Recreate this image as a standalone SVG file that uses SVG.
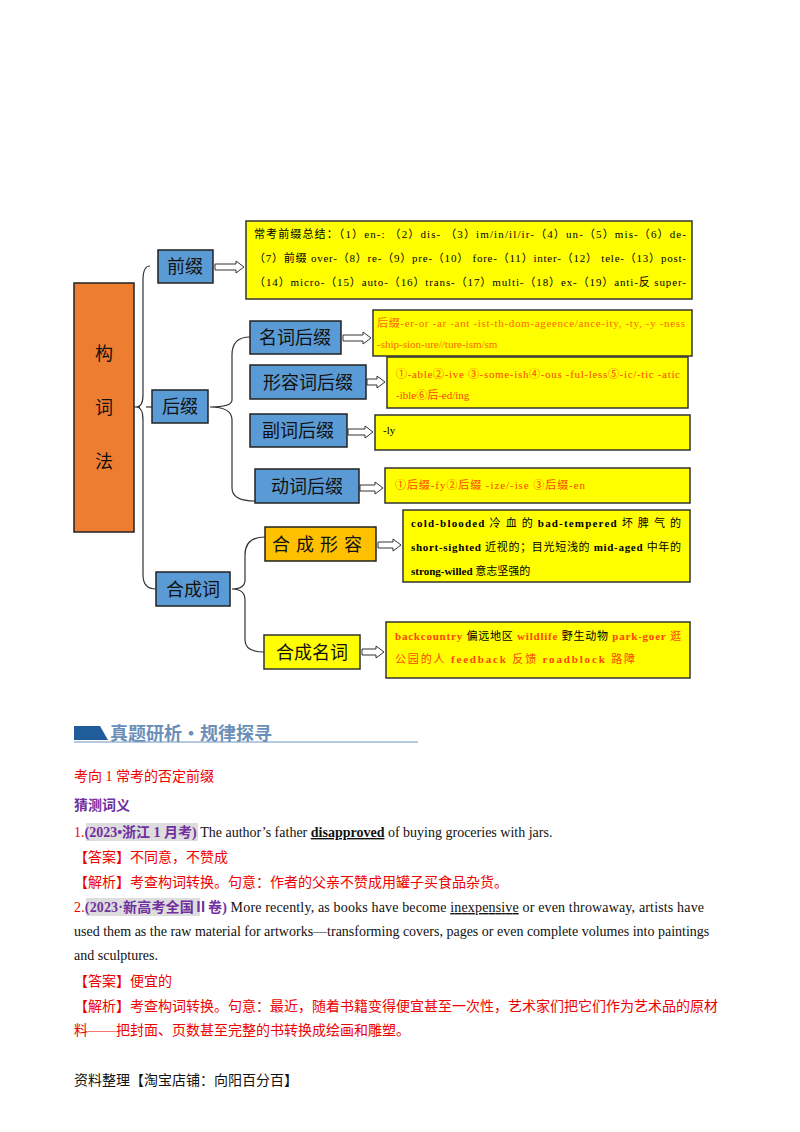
<svg xmlns="http://www.w3.org/2000/svg" width="800" height="1132" viewBox="0 0 800 1132">
<style>
.blue{fill:#5B9BD5;stroke:#222;stroke-width:1.5}
.yel{fill:#FFFF00;stroke:#333;stroke-width:1.5}
.lbl{font-family:"Noto Sans CJK SC",sans-serif;font-size:18px;fill:#111}
.sm{font-family:"Liberation Serif","Noto Sans CJK SC",serif;font-size:11px}
.br{fill:none;stroke:#333;stroke-width:1.2}
.ar{fill:#fff;stroke:#333;stroke-width:1}
.body{font-family:"Liberation Serif","Noto Sans CJK SC",serif;font-size:14px;fill:#111}
.red{fill:#E00}
</style>
<rect width="800" height="1132" fill="#fff"/>
<g id="connectors">
<path class="br" d="M134,407 H140 M150,266 Q143,266 143,280 V395 Q143,407 136,407 Q143,407 143,420 V575 Q143,589 156,589"/>
<path class="br" d="M152,407 H146"/>
<path class="br" d="M250,337 Q232,337 232,355 V400 Q232,407 210,407 Q232,407 232,420 V488 Q232,501 255,501"/>
<path class="br" d="M265,537 Q245,537 245,555 V580 Q245,589 232,589 Q245,589 245,600 V640 Q245,652 264,652"/>
<path class="ar" d="M215,264 H236 V261 L244,267 L236,273 V270 H215 Z"/>
<path class="ar" d="M343,335 H363 V332 L371,338 L363,344 V341 H343 Z"/>
<path class="ar" d="M367,379 H377 V376 L385,382 L377,388 V385 H367 Z"/>
<path class="ar" d="M348,429 H365 V426 L373,432 L365,438 V435 H348 Z"/>
<path class="ar" d="M360,485 H375 V482 L383,488 L375,494 V491 H360 Z"/>
<path class="ar" d="M378,542 H393 V539 L401,545 L393,551 V548 H378 Z"/>
<path class="ar" d="M362,649 H376 V646 L384,652 L376,658 V655 H362 Z"/>
</g>
<g id="root"><rect x="74" y="283" width="60" height="249" fill="#ED7D31" stroke="#222" stroke-width="1.5"/>
<text class="lbl" x="104" y="360" text-anchor="middle">构</text><text class="lbl" x="104" y="414" text-anchor="middle">词</text><text class="lbl" x="104" y="468" text-anchor="middle">法</text></g>
<g id="prefix"><rect class="blue" x="158" y="250" width="55" height="33"/><text class="lbl" x="185" y="273" text-anchor="middle">前缀</text></g>
<g id="prefix-box"><rect class="yel" x="246" y="221" width="446" height="78"/>
<text class="sm" x="254" y="238" textLength="432" lengthAdjust="spacing">常考前缀总结：（1）en-: （2）dis- （3）im/in/il/ir-（4）un-（5）mis-（6）de-</text>
<text class="sm" x="254" y="262" textLength="432" lengthAdjust="spacing">（7）前缀 over-（8）re-（9）pre-（10） fore-（11）inter-（12） tele-（13）post-</text>
<text class="sm" x="254" y="286" textLength="432" lengthAdjust="spacing">（14）micro-（15）auto-（16）trans-（17）multi-（18）ex-（19）anti-反 super-</text></g>
<g id="suffix"><rect class="blue" x="152" y="390" width="56" height="33"/><text class="lbl" x="180" y="413" text-anchor="middle">后缀</text></g>
<g id="noun-suffix"><rect class="blue" x="250" y="321" width="91" height="33"/><text class="lbl" x="295" y="344" text-anchor="middle">名词后缀</text>
<rect class="yel" x="373" y="310" width="319" height="46"/>
<text class="sm" fill="#F60" x="377" y="327" textLength="308" lengthAdjust="spacing">后缀-er-or -ar -ant -ist-th-dom-ageence/ance-ity, -ty, -y -ness</text>
<text class="sm" fill="#F60" x="377" y="348">-ship-sion-ure//ture-ism/sm</text></g>
<g id="adj-suffix"><rect class="blue" x="250" y="365" width="116" height="34"/><text class="lbl" x="308" y="389" text-anchor="middle">形容词后缀</text>
<rect class="yel" x="387" y="357" width="301" height="51"/>
<text class="sm" fill="#F40" x="396" y="378" textLength="284" lengthAdjust="spacing">①-able②-ive  ③-some-ish④-ous -ful-less⑤-ic/-tic -atic</text>
<text class="sm" fill="#F40" x="396" y="399">-ible⑥后-ed/ing</text></g>
<g id="adv-suffix"><rect class="blue" x="250" y="414" width="97" height="33"/><text class="lbl" x="298" y="437" text-anchor="middle">副词后缀</text>
<rect class="yel" x="375" y="415" width="315" height="35"/><text class="sm" x="383" y="434">-ly</text></g>
<g id="verb-suffix"><rect class="blue" x="255" y="469" width="104" height="34"/><text class="lbl" x="307" y="493" text-anchor="middle">动词后缀</text>
<rect class="yel" x="385" y="468" width="305" height="35"/><text class="sm" fill="#F40" x="395" y="489" textLength="190" lengthAdjust="spacing">①后缀-fy②后缀   -ize/-ise ③后缀-en</text></g>
<g id="compound"><rect class="blue" x="156" y="572" width="74" height="34"/><text class="lbl" x="193" y="596" text-anchor="middle">合成词</text></g>
<g id="compound-adj"><rect x="265" y="527" width="111" height="34" fill="#FFC000" stroke="#222" stroke-width="1.5"/><text class="lbl" x="320" y="551" text-anchor="middle" letter-spacing="6">合成形容</text>
<rect class="yel" x="403" y="510" width="287" height="72"/>
<text class="sm" x="411" y="527" font-weight="bold" textLength="270" lengthAdjust="spacing">cold-blooded <tspan font-weight="normal">冷 血 的 </tspan>bad-tempered <tspan font-weight="normal">坏 脾 气 的</tspan></text>
<text class="sm" x="411" y="551" font-weight="bold" textLength="270" lengthAdjust="spacing">short-sighted <tspan font-weight="normal">近视的；目光短浅的 </tspan>mid-aged <tspan font-weight="normal">中年的</tspan></text>
<text class="sm" x="411" y="575" font-weight="bold">strong-willed  <tspan font-weight="normal">意志坚强的</tspan></text></g>
<g id="compound-noun"><rect class="yel" x="264" y="635" width="96" height="34"/><text class="lbl" x="312" y="659" text-anchor="middle">合成名词</text>
<rect class="yel" x="386" y="622" width="304" height="56"/>
<text class="sm" x="395" y="640" textLength="286" lengthAdjust="spacing"><tspan fill="#F40" font-weight="bold">backcountry</tspan> 偏远地区  <tspan fill="#F40" font-weight="bold">wildlife</tspan> 野生动物 <tspan fill="#F40" font-weight="bold">park-goer</tspan> <tspan fill="#F40">逛</tspan></text>
<text class="sm" fill="#F40" x="395" y="663" textLength="240" lengthAdjust="spacing">公园的人  <tspan font-weight="bold">feedback</tspan>   反馈   <tspan font-weight="bold">roadblock</tspan>   路障</text></g>
<g id="text">
<path d="M74,726 H100 L108,740 H74 Z" fill="#1F5C99"/>
<line x1="74" y1="742" x2="418" y2="742" stroke="#9DB7D5" stroke-width="1.5"/>
<text x="110" y="740" font-family="Noto Sans CJK SC,sans-serif" font-size="18" font-weight="bold" fill="#6A8FB8">真题研析·规律探寻</text>
<text class="body red" x="74" y="781" font-size="15">考向 1  常考的否定前缀</text>
<text class="body" x="74" y="810" font-size="15" font-weight="bold" style="fill:#7030A0">猜测词义</text>
<rect x="86" y="823" width="112" height="18" fill="#ddd"/>
<text class="body" x="74" y="837"><tspan fill="#E00">1.</tspan><tspan fill="#7030A0" font-weight="bold">(2023•浙江 1 月考)</tspan>  The author’s father  <tspan font-weight="bold" text-decoration="underline">disapproved</tspan>  of buying groceries with jars.</text>
<text class="body red" x="74" y="862">【答案】不同意，不赞成</text>
<text class="body red" x="74" y="887">【解析】考查构词转换。句意：作者的父亲不赞成用罐子买食品杂货。</text>
<rect x="86" y="898" width="114" height="18" fill="#ddd"/>
<text class="body" x="74" y="912" textLength="630" lengthAdjust="spacing"><tspan fill="#E00">2.</tspan><tspan fill="#7030A0" font-weight="bold">(2023·新高考全国Ⅱ卷)</tspan>  More recently, as books have become  <tspan text-decoration="underline">inexpensive</tspan>  or even throwaway, artists have</text>
<text class="body" x="74" y="936">used them as the raw material for artworks—transforming covers, pages or even complete volumes into paintings</text>
<text class="body" x="74" y="960">and sculptures.</text>
<text class="body red" x="74" y="986">【答案】便宜的</text>
<text class="body red" x="74" y="1011">【解析】考查构词转换。句意：最近，随着书籍变得便宜甚至一次性，艺术家们把它们作为艺术品的原材</text>
<text class="body red" x="74" y="1035">料——把封面、页数甚至完整的书转换成绘画和雕塑。</text>
<text class="body" x="74" y="1085" font-size="13">资料整理【淘宝店铺：向阳百分百】</text>
</g>
</svg>
